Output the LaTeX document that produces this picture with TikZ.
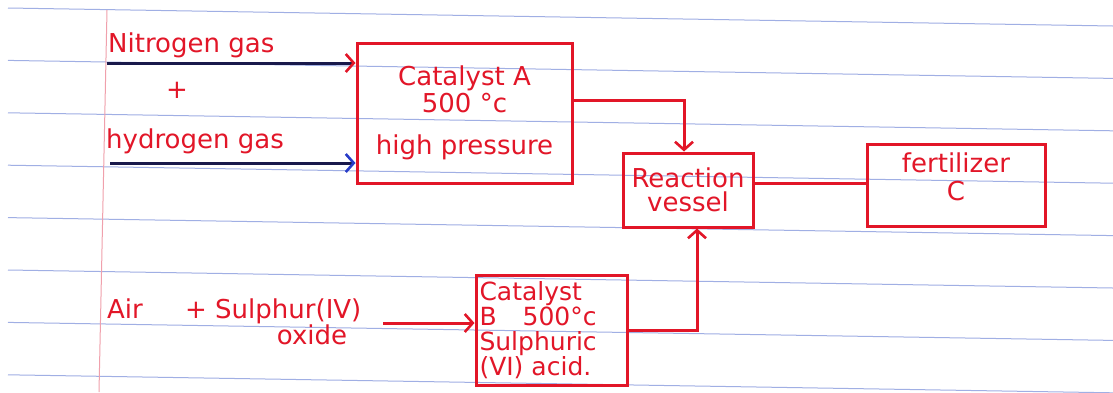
\documentclass[tikz,border=0pt]{standalone}
\usepackage{fontspec}
\setmainfont{DejaVu Sans}
\usetikzlibrary{arrows.meta}
\definecolor{ink}{RGB}{226,22,40}
\definecolor{navy}{RGB}{25,25,75}
\definecolor{bluetip}{RGB}{40,60,200}
\definecolor{ruleblue}{RGB}{160,175,228}
\definecolor{marginred}{RGB}{240,160,172}
\newcommand\handsize{\fontsize{26}{28}\selectfont}
\newcommand\smallhand{\fontsize{25}{25}\selectfont}

\begin{document}
\begin{tikzpicture}[x=1pt,y=-1pt,
  pen/.style={draw=ink, line width=3pt},
  box/.style={pen, inner sep=0pt, text=ink, font=\handsize, align=center},
  hand/.style={text=ink, font=\handsize, inner sep=0pt},
  barb/.style={-{Straight Barb[length=8pt,width=18pt,line width=2.6pt,#1]}},
  flow/.style={pen, barb={color=ink}},
  feed/.style={draw=navy, line width=3pt, barb={color=#1}},
  paperline/.style={draw=ruleblue, line width=1pt},
  marginline/.style={draw=marginred, line width=1pt}]

% paper
\useasboundingbox (0,0) rectangle (1113,392);
\fill[white] (0,0) rectangle (1113,392);
\foreach \k in {0,...,7}
  \draw[paperline] (8,{8+52.4*\k}) -- (1113,{26+52.4*\k});
\draw[marginline] (107,10) -- (99,392);

% process boxes
\node[box, minimum width=215pt, minimum height=140pt] (catA) at (464.5,113)
  {Catalyst A\\[-1pt]500 °c\\[14pt]high pressure};
\node[box, minimum width=130pt, minimum height=74pt] (vessel) at (688,190)
  {Reaction\\[-4pt]vessel};
\node[box, minimum width=178pt, minimum height=82pt] (fert) at (956,185)
  {fertilizer\\C\\[-20pt]\strut};
\node[box, font=\smallhand, minimum width=151pt, minimum height=110pt, text width=144pt, align=left] (catB) at (551.5,330)
  {Catalyst\\B\hspace{26pt}500°c\\Sulphuric\\(VI)\hspace{8pt}acid.};

% feed labels
\node[hand, anchor=base west] (nitro) at (108,52) {Nitrogen gas};
\node[hand] (plus) at (177,90) {+};
\node[hand, anchor=base west] (hydro) at (106,148) {hydrogen gas};
\node[hand, anchor=base west] (air) at (107,318) {Air};
\node[hand, anchor=base west] (sulphur) at (185,318) {+ Sulphur(IV)};
\node[hand, anchor=base] (oxide) at (312,344) {oxide};

% feeds into catalyst A
\coordinate (nstart) at (107,63);
\coordinate (hstart) at (110,163);
\draw[feed=ink] (nstart) -- (nstart -| catA.west);
\draw[feed=bluetip] (hstart) -- (hstart -| catA.west);

% feed into catalyst B
\coordinate (sstart) at (383,323);
\draw[flow] (sstart) -- (sstart -| catB.west);

% flows to the reaction vessel and on to the product
\draw[flow] ([yshift=13pt]catA.east) -| ([xshift=-4pt]vessel.north);
\draw[flow] (catB.east) -| ([xshift=9pt]vessel.south);
\draw[pen] ([yshift=7pt]vessel.east) -- ([yshift=7pt]vessel.east -| fert.west);
\end{tikzpicture}
\end{document}
